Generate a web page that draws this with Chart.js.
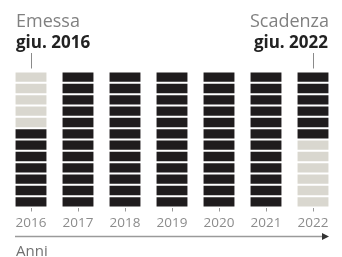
<!DOCTYPE html>
<html><head><meta charset="utf-8">
<script src="https://cdn.jsdelivr.net/npm/chart.js@4/dist/chart.umd.min.js"></script>
<style>
html,body{margin:0;padding:0;background:#fff;}
#wrap{position:relative;width:342px;height:257px;overflow:hidden;}
canvas{position:absolute;left:0;top:0;}
.t{position:absolute;font-family:"Open Sans",sans-serif;white-space:nowrap;}
</style></head><body>
<div id="wrap">
<canvas id="c" width="342" height="257"></canvas>
<div class="t" style="left:16px;top:11px;font-size:18px;line-height:18px;color:#808080;">Emessa</div>
<div class="t" style="left:16px;top:33px;font-size:17px;line-height:17px;color:#222;font-weight:bold;">giu. 2016</div>
<div class="t" style="right:13px;top:11px;font-size:18px;line-height:18px;color:#808080;">Scadenza</div>
<div class="t" style="right:14px;top:33px;font-size:17px;line-height:17px;color:#222;font-weight:bold;">giu. 2022</div>
<div class="t" style="left:16px;top:243px;font-size:15px;line-height:15px;color:#707070;">Anni</div>
</div>
<script>
const years = ['2016','2017','2018','2019','2020','2021','2022'];
const months = ['gen','feb','mar','apr','mag','giu','lug','ago','set','ott','nov','dic'];
const firstActiveMonth = [6,1,1,1,1,1,1];
const lastActiveMonth = [12,12,12,12,12,12,6];
const monthValue = [1,1,1,1,1,1,1];

const DARK = '#1f1c1d';
const LIGHT = '#d9d7cf';

const datasets = months.map((m, i) => ({
  label: m,
  data: monthValue.slice(),
  backgroundColor: years.map((y, j) => (i + 1 >= firstActiveMonth[j] && i + 1 <= lastActiveMonth[j]) ? DARK : LIGHT),
  borderColor: '#ffffff',
  borderWidth: 1,
  borderSkipped: false,
  stack: 's',
  barPercentage: 0.70,
  categoryPercentage: 1.0
}));

const deco = {
  id: 'deco',
  afterDraw(chart) {
    const ctx = chart.ctx;
    const xs = chart.scales.x;
    const top = chart.chartArea.top;
    ctx.save();
    ctx.strokeStyle = '#8a8a8a';
    ctx.lineWidth = 1;
    [0, years.length - 1].forEach(i => {
      const px = Math.round(xs.getPixelForValue(i)) + 0.5;
      ctx.beginPath();
      ctx.moveTo(px, 53);
      ctx.lineTo(px, top - 3);
      ctx.stroke();
    });
    const y = 236.5;
    ctx.strokeStyle = '#9a9a9a';
    ctx.lineWidth = 1.5;
    ctx.beginPath();
    ctx.moveTo(15, y);
    ctx.lineTo(324, y);
    ctx.stroke();
    ctx.fillStyle = '#333';
    ctx.beginPath();
    ctx.moveTo(329, y);
    ctx.lineTo(322, y - 3.5);
    ctx.lineTo(322, y + 3.5);
    ctx.closePath();
    ctx.fill();
    ctx.restore();
  }
};

new Chart(document.getElementById('c'), {
  type: 'bar',
  data: { labels: years, datasets },
  options: {
    responsive: false,
    animation: false,
    layout: { padding: { left: 7.5, right: 5.5, top: 71.5, bottom: 24.5 } },
    plugins: { legend: { display: false }, tooltip: { enabled: false } },
    scales: {
      x: {
        stacked: true,
        grid: { display: true, drawOnChartArea: false, drawTicks: true, tickLength: 4, tickColor: '#999', tickWidth: 1, offset: false },
        border: { display: false },
        ticks: { color: '#8c8c8c', font: { family: 'Open Sans', size: 13.5 }, padding: 4 },
        afterFit(s) { s.height = 25; }
      },
      y: { stacked: true, reverse: true, min: 0, max: 12, display: false }
    }
  },
  plugins: [deco]
});
</script>
</body></html>
